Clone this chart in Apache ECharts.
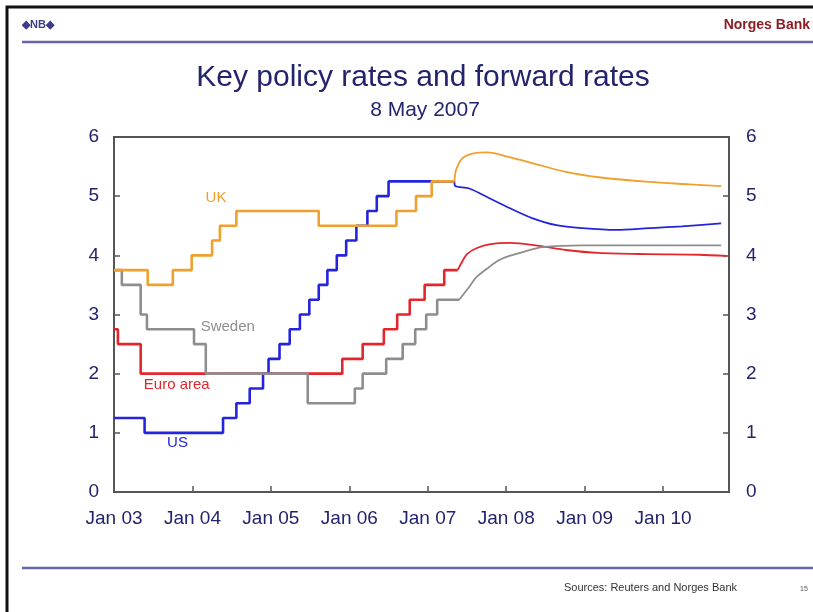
<!DOCTYPE html>
<html>
<head>
<meta charset="utf-8">
<script src="https://cdn.jsdelivr.net/npm/echarts@6/dist/echarts.min.js"></script>
<style>
html,body{margin:0;padding:0;background:#fff;}
#chart{width:813px;height:612px;}
</style>
</head>
<body>
<div id="chart"></div>
<script>
// ---- data (x = decimal year, y = percent) ----
const yTicks = [0, 1, 2, 3, 4, 5, 6];
const xTickYears = [2003, 2004, 2005, 2006, 2007, 2008, 2009, 2010];

const ukHistory = [[2003.00,3.75],[2003.43,3.5],[2003.75,3.75],[2003.99,4.0],[2004.25,4.25],[2004.35,4.5],[2004.56,4.75],[2005.61,4.5],[2006.60,4.75],[2006.85,5.0],[2007.05,5.25],[2007.34,5.25]];
const ukForward = [[2007.34,5.25],[2007.36,5.44],[2007.44,5.64],[2007.57,5.72],[2007.76,5.74],[2008.04,5.66],[2008.33,5.56],[2008.76,5.41],[2009.18,5.32],[2009.82,5.24],[2010.33,5.20],[2010.74,5.17]];

const usHistory = [[2003.00,1.25],[2003.39,1.0],[2004.39,1.25],[2004.56,1.5],[2004.73,1.75],[2004.90,2.0],[2004.97,2.25],[2005.11,2.5],[2005.24,2.75],[2005.37,3.0],[2005.49,3.25],[2005.61,3.5],[2005.72,3.75],[2005.84,4.0],[2005.96,4.25],[2006.09,4.5],[2006.23,4.75],[2006.35,5.0],[2006.50,5.25],[2007.34,5.25]];
const usForward = [[2007.34,5.25],[2007.35,5.17],[2007.53,5.13],[2007.78,4.97],[2008.04,4.80],[2008.33,4.63],[2008.64,4.51],[2008.97,4.46],[2009.40,4.43],[2009.82,4.46],[2010.24,4.49],[2010.74,4.54]];

const euroHistory = [[2003.00,2.75],[2003.05,2.5],[2003.34,2.0],[2005.91,2.25],[2006.17,2.5],[2006.44,2.75],[2006.61,3.0],[2006.77,3.25],[2006.96,3.5],[2007.21,3.75],[2007.38,3.75]];
const euroForward = [[2007.38,3.75],[2007.42,3.85],[2007.50,4.02],[2007.62,4.12],[2007.80,4.19],[2008.05,4.21],[2008.42,4.16],[2008.76,4.09],[2009.18,4.04],[2009.82,4.02],[2010.46,4.01],[2010.81,3.99]];

const swedenHistory = [[2003.00,3.75],[2003.10,3.5],[2003.34,3.0],[2003.42,2.75],[2004.02,2.5],[2004.17,2.0],[2005.47,1.5],[2006.07,1.75],[2006.17,2.0],[2006.47,2.25],[2006.68,2.5],[2006.84,2.75],[2006.98,3.0],[2007.12,3.25],[2007.40,3.25]];
const swedenForward = [[2007.40,3.25],[2007.53,3.47],[2007.62,3.63],[2007.78,3.80],[2007.91,3.92],[2008.04,3.99],[2008.25,4.07],[2008.46,4.14],[2008.97,4.17],[2010.74,4.17]];

const seriesNames = ['UK', 'US', 'Euro area', 'Sweden'];

// ---- styling ----
const FONT = "'Liberation Sans', Arial, sans-serif";
const NAVY = '#23236e';
const COL = { 'UK': '#f0a02c', 'US': '#2424dc', 'Euro area': '#e4262c', 'Sweden': '#8e8e8e' };
const labelAt = { 'UK': [2004.30, 4.97], 'US': [2003.81, 0.83], 'Euro area': [2003.80, 1.81], 'Sweden': [2004.45, 2.79] };
const zOf = { 'UK': 4, 'US': 3, 'Euro area': 2, 'Sweden': 3 };

const histData = { 'UK': ukHistory, 'US': usHistory, 'Euro area': euroHistory, 'Sweden': swedenHistory };
const fwdData = { 'UK': ukForward, 'US': usForward, 'Euro area': euroForward, 'Sweden': swedenForward };

const series = [];
seriesNames.forEach(function (name) {
  series.push({
    name: name, type: 'line', step: 'end', data: histData[name],
    showSymbol: false, symbol: 'none', z: zOf[name],
    lineStyle: { color: COL[name], width: 2.6 },
    animation: false,
    markPoint: {
      symbol: 'circle', symbolSize: 0, animation: false,
      label: { show: true, position: 'inside', formatter: name, color: COL[name], fontSize: 15, fontFamily: FONT },
      data: [{ coord: labelAt[name] }]
    }
  });
  series.push({
    name: name + ' forward', type: 'line', data: fwdData[name],
    showSymbol: false, symbol: 'none', smooth: 0.3, z: zOf[name],
    lineStyle: { color: COL[name], width: 1.8 },
    animation: false
  });
});

const chart = echarts.init(document.getElementById('chart'), null, { renderer: 'canvas' });
chart.setOption({
  backgroundColor: '#ffffff',
  animation: false,
  textStyle: { fontFamily: FONT },
  title: [
    { text: 'Key policy rates and forward rates', left: 418, top: 58, textAlign: 'center',
      textStyle: { color: NAVY, fontSize: 30, fontWeight: 'normal', fontFamily: FONT } },
    { text: '8 May 2007', left: 420, top: 95, textAlign: 'center',
      textStyle: { color: NAVY, fontSize: 21, fontWeight: 'normal', fontFamily: FONT } }
  ],
  grid: { left: 114, right: 84, top: 137, bottom: 120, show: true, borderColor: '#555', borderWidth: 2, backgroundColor: 'transparent' },
  xAxis: {
    type: 'value', min: 2003, max: 2010.84, interval: 1,
    splitLine: { show: false },
    axisLine: { show: true, lineStyle: { color: '#555', width: 2 } },
    axisTick: { show: true, inside: true, length: 6, lineStyle: { color: '#555', width: 1.5 } },
    axisLabel: {
      show: true, margin: 17, color: NAVY, fontSize: 19, fontFamily: FONT, showMaxLabel: false,
      formatter: function (v) {
        return xTickYears.indexOf(Math.round(v * 100) / 100) >= 0 ? 'Jan ' + String(Math.round(v)).slice(2) : '';
      }
    }
  },
  yAxis: [
    {
      type: 'value', min: yTicks[0], max: yTicks[yTicks.length - 1], interval: 1, position: 'left',
      splitLine: { show: false },
      axisLine: { show: true, lineStyle: { color: '#555', width: 2 } },
      axisTick: { show: true, inside: true, length: 6, lineStyle: { color: '#555', width: 1.5 } },
      axisLabel: { margin: 15, color: NAVY, fontSize: 19, fontFamily: FONT }
    },
    {
      type: 'value', min: yTicks[0], max: yTicks[yTicks.length - 1], interval: 1, position: 'right',
      splitLine: { show: false },
      axisLine: { show: true, lineStyle: { color: '#555', width: 2 } },
      axisTick: { show: true, inside: true, length: 6, lineStyle: { color: '#555', width: 1.5 } },
      axisLabel: { margin: 17, color: NAVY, fontSize: 19, fontFamily: FONT }
    }
  ],
  graphic: [
    { type: 'rect', shape: { x: 7, y: 7, width: 830, height: 640 }, style: { fill: 'none', stroke: '#111', lineWidth: 3 }, silent: true },
    { type: 'line', shape: { x1: 22, y1: 42, x2: 813, y2: 42 }, style: { stroke: '#6464a8', lineWidth: 2.5 } },
    { type: 'line', shape: { x1: 22, y1: 568, x2: 813, y2: 568 }, style: { stroke: '#6464a8', lineWidth: 2.5 } },
    { type: 'text', x: 22, y: 25, style: { text: '◆NB◆', fill: '#3c3c8c', font: "bold 11px 'Liberation Sans', Arial", textVerticalAlign: 'middle' } },
    { type: 'text', x: 810, y: 25, style: { text: 'Norges Bank', fill: '#8c1c24', font: "bold 14px 'Liberation Sans', Arial", textAlign: 'right', textVerticalAlign: 'middle' } },
    { type: 'text', x: 737, y: 588, style: { text: 'Sources: Reuters and Norges Bank', fill: '#333', font: "11px 'Liberation Sans', Arial", textAlign: 'right', textVerticalAlign: 'middle' } },
    { type: 'text', x: 804, y: 589, style: { text: '15', fill: '#555', font: "7px 'Liberation Sans', Arial", textAlign: 'center', textVerticalAlign: 'middle' } }
  ],
  series: series
});
</script>
</body>
</html>
